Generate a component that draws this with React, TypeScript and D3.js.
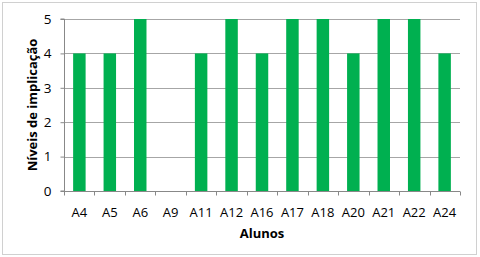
import React, { useEffect, useRef } from "react";
import * as d3 from "d3";

const alunos = ["A4", "A5", "A6", "A9", "A11", "A12", "A16", "A17", "A18", "A20", "A21", "A22", "A24"];
const niveis = [4, 4, 5, 0, 4, 5, 4, 5, 5, 4, 5, 5, 4];
const yTicks = [0, 1, 2, 3, 4, 5];

const W = 480;
const H = 257;
const margin = { top: 19, right: 20, bottom: 66, left: 64 };

function App() {
  const svgRef = useRef<SVGSVGElement>(null);

  useEffect(() => {
    const svg = d3.select(svgRef.current);
    svg.selectAll("*").remove();

    const x = d3
      .scaleBand()
      .domain(alunos)
      .range([margin.left, W - margin.right])
      .paddingInner(0.59)
      .paddingOuter(0.3);
    const y = d3
      .scaleLinear()
      .domain([0, 5])
      .range([H - margin.bottom, margin.top]);

    const font = "'Open Sans', 'Liberation Sans', sans-serif";

    // outer frame
    svg
      .append("rect")
      .attr("x", 2.5)
      .attr("y", 2.5)
      .attr("width", W - 6)
      .attr("height", H - 5)
      .attr("fill", "white")
      .attr("stroke", "#d0d0d0");

    // gridlines
    svg
      .append("g")
      .selectAll("line")
      .data(yTicks.filter((d) => d > 0))
      .join("line")
      .attr("x1", margin.left)
      .attr("x2", W - margin.right)
      .attr("y1", (d) => Math.round(y(d)) + 0.5)
      .attr("y2", (d) => Math.round(y(d)) + 0.5)
      .attr("stroke", "#a6a6a6");

    // bars
    svg
      .append("g")
      .selectAll("rect")
      .data(niveis)
      .join("rect")
      .attr("x", (d, i) => x(alunos[i])!)
      .attr("width", x.bandwidth())
      .attr("y", (d) => y(d))
      .attr("height", (d) => y(0) - y(d))
      .attr("fill", "#00B050");

    // y axis
    const yAxis = d3.axisLeft(y).tickValues(yTicks).tickSize(4).tickPadding(9).tickFormat(d3.format("d"));
    const gy = svg
      .append("g")
      .attr("transform", `translate(${margin.left + 0.5},0)`)
      .call(yAxis);
    gy.selectAll("line").attr("stroke", "#888");
    gy.select(".domain").attr("stroke", "#888").attr("d", `M-4,${y(0)}H0V${y(5)}H-4`);
    gy.selectAll("text").attr("font-size", 13.5).attr("font-family", font).attr("fill", "#000");

    // x axis: ticks sit on category boundaries
    const bounds = d3.range(alunos.length + 1).map((i) => margin.left + i * (W - margin.left - margin.right) / alunos.length);
    const gx = svg.append("g").attr("transform", `translate(0,${Math.round(y(0)) + 0.5})`);
    gx.append("line")
      .attr("x1", margin.left)
      .attr("x2", W - margin.right)
      .attr("stroke", "#888");
    gx.selectAll(".tk")
      .data(bounds)
      .join("line")
      .attr("class", "tk")
      .attr("x1", (d) => Math.round(d) + 0.5)
      .attr("x2", (d) => Math.round(d) + 0.5)
      .attr("y1", 0)
      .attr("y2", 4)
      .attr("stroke", "#888");
    gx.selectAll("text")
      .data(alunos)
      .join("text")
      .attr("x", (d) => x(d)! + x.bandwidth() / 2)
      .attr("y", 25)
      .attr("text-anchor", "middle")
      .attr("font-size", 13)
      .attr("font-family", font)
      .text((d) => d);

    // axis titles
    svg
      .append("text")
      .attr("x", (margin.left + W - margin.right) / 2)
      .attr("y", 238)
      .attr("text-anchor", "middle")
      .attr("font-size", 13)
      .attr("font-weight", "bold")
      .attr("font-family", font)
      .text("Alunos");
    svg
      .append("text")
      .attr("transform", `translate(37,${(margin.top + H - margin.bottom) / 2}) rotate(-90)`)
      .attr("text-anchor", "middle")
      .attr("font-size", 13)
      .attr("font-weight", "bold")
      .attr("font-family", font)
      .text("Níveis de implicação");
  }, []);

  return (
    <div style={{ position: "fixed", left: 0, top: 0 }}>
      <svg ref={svgRef} width={W} height={H} style={{ display: "block" }} />
    </div>
  );
}

export default App;
